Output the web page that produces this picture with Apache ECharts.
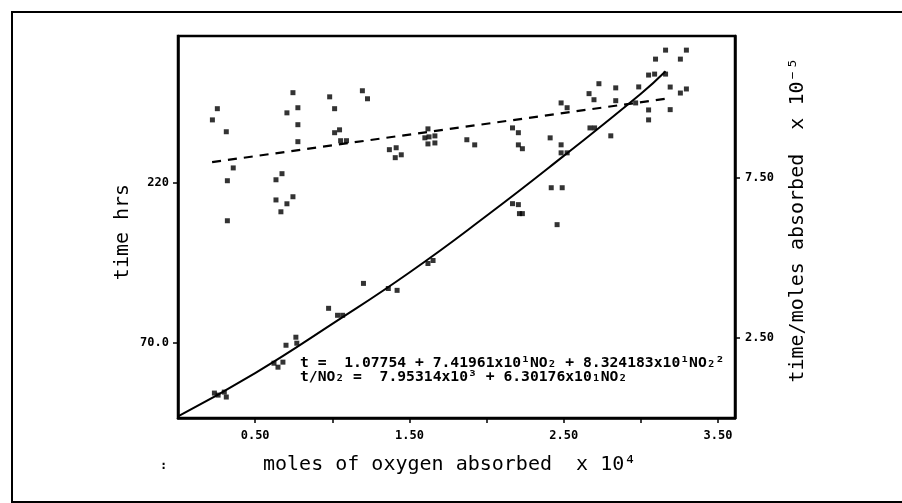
<!DOCTYPE html>
<html>
	<head>
		<meta charset="utf-8">
		<script src="https://cdn.jsdelivr.net/npm/echarts@6/dist/echarts.min.js"></script>
	</head>
	<body style="margin:0;background:#fff;">
		<div id="main" style="width:902px;height:503px;"></div>
		<script>
			// x: moles of oxygen absorbed (x10^4)
			// t points (left axis, hrs)
			var tPoints = [
				[0.236,23.3],[0.26,21.4],[0.30,24.2],[0.313,19.6],
				[0.622,51.2],[0.648,47.5],[0.68,52.2],[0.70,68],[0.764,75.5],[0.77,69.9],
				[0.976,102.5],[1.034,96],[1.067,96],[1.202,125.8],[1.363,121],[1.42,119.3],
				[1.62,144.4],[1.653,147.2],[2.168,200.3],[2.206,199.4],[2.213,191],[2.232,191],
				[2.419,215.2],[2.49,215.2],[2.457,180.7],[2.412,261.8],[2.483,255.3],
				[2.483,247.8],[2.522,247.8],[2.67,271.1],[2.70,271.1],[2.805,263.7],
				[3.05,287.9],[3.05,278.6],[3.05,320.5],[3.089,321.4],[3.16,321.4],
				[3.095,335.4],[3.16,343.8],[3.256,335.4],[3.295,343.8],[3.19,309.3],
				[3.295,307.5],[3.256,303.7]
			];
			// t/NO2 points (right axis)
			var ratioPoints = [
				[0.255,9.66],[0.223,9.31],[0.313,8.94],[0.32,7.41],[0.32,6.16],[0.358,7.81],
				[0.745,10.16],[0.706,9.53],[0.777,9.69],[0.777,9.16],[0.777,8.63],
				[0.674,7.63],[0.635,7.44],[0.635,6.81],[0.745,6.91],[0.706,6.69],[0.667,6.44],
				[0.983,10.03],[1.015,9.66],[1.047,9.0],[1.015,8.91],[1.054,8.66],[1.092,8.66],
				[1.195,10.22],[1.228,9.97],[1.37,8.38],[1.414,8.44],[1.408,8.13],[1.447,8.22],
				[1.62,9.03],[1.627,8.78],[1.665,8.81],[1.60,8.75],[1.62,8.56],[1.665,8.59],
				[1.872,8.69],[1.923,8.53],[2.168,9.06],[2.206,8.91],[2.206,8.53],[2.232,8.41],
				[2.483,9.84],[2.522,9.69],[2.664,10.13],[2.696,9.94],[2.728,10.44],
				[2.837,10.31],[2.837,9.91],[2.986,10.34],[2.966,9.84],[3.19,9.63]
			];
			// fitted curves
			var tCurve = [[0,1.5],[0.5,42],[1.0,88],[1.5,136],[2.0,189],[2.5,245],[3.0,303],[3.16,324]];
			var ratioFit = [[0.221,7.99],[3.159,9.97]];

			// tick labels
			var xTickValues = [0.5,1.5,2.5,3.5];
			var xTickLabels = ['0.50','1.50','2.50','3.50'];
			var xTickMarks = [0.5,1,1.5,2,2.5,3,3.5];
			var leftTickValues = [70,220];
			var leftTickLabels = ['70.0','220'];
			var rightTickValues = [2.5,7.5];
			var rightTickLabels = ['2.50','7.50'];

			var eq1 = 't =  1.07754 + 7.41961x10\u00b9NO\u2082 + 8.324183x10\u00b9NO\u2082\u00b2';
			var eq2 = 't/NO\u2082 =  7.95314x10\u00b3 + 6.30176x10\u2081NO\u2082';

			var mono = 'DejaVu Sans Mono';
			function lab(values, labels) {
				return function (v) {
					for (var i = 0; i < values.length; i++) {
						if (Math.abs(values[i] - v) < 1e-6) return labels[i];
					}
					return '';
				};
			}
			var tickLabelStyle = {color:'#000', fontFamily:mono, fontWeight:'bold', fontSize:12};

			option = {
				animation: false,
				backgroundColor: '#fff',
				grid: {left:178, right:167, top:36, bottom:85, show:true, borderColor:'#000', borderWidth:2.5},
				xAxis: {
					type: 'value', min: 0, max: 3.61,
					axisLine: {lineStyle:{color:'#000', width:2.5}},
					axisTick: {customValues: xTickMarks, length:5, lineStyle:{color:'#000', width:1.5}},
					axisLabel: Object.assign({customValues: xTickValues, formatter: lab(xTickValues, xTickLabels), margin:12}, tickLabelStyle),
					splitLine: {show:false}
				},
				yAxis: [
					{
						type: 'value', min: 0, max: 357, position: 'left',
						axisLine: {show:true, lineStyle:{color:'#000', width:2.5}},
						axisTick: {show:true, customValues: leftTickValues, length:5, lineStyle:{color:'#000', width:1.5}},
						axisLabel: Object.assign({customValues: leftTickValues, formatter: lab(leftTickValues, leftTickLabels), margin:9}, tickLabelStyle),
						splitLine: {show:false}
					},
					{
						type: 'value', min: 0, max: 11.93, position: 'right',
						axisLine: {show:true, lineStyle:{color:'#000', width:2.5}},
						axisTick: {show:true, customValues: rightTickValues, length:5, lineStyle:{color:'#000', width:1.5}},
						axisLabel: Object.assign({customValues: rightTickValues, formatter: lab(rightTickValues, rightTickLabels), margin:10}, tickLabelStyle),
						splitLine: {show:false}
					}
				],
				series: [
					{
						type: 'scatter', yAxisIndex: 0, data: tPoints,
						symbol: 'rect', symbolSize: 5, itemStyle: {color:'#000'}
					},
					{
						type: 'scatter', yAxisIndex: 1, data: ratioPoints,
						symbol: 'rect', symbolSize: 5, itemStyle: {color:'#000'}
					},
					{
						type: 'line', yAxisIndex: 0, data: tCurve, smooth: true,
						showSymbol: false, lineStyle: {color:'#000', width:2}
					},
					{
						type: 'line', yAxisIndex: 1, data: ratioFit,
						showSymbol: false, lineStyle: {color:'#000', width:2.2, type:[9,7]}
					}
				],
				graphic: [
					{type:'rect', shape:{x:12, y:12, width:900, height:490}, style:{fill:'none', stroke:'#000', lineWidth:2}, silent:true},
					{type:'text', x:300, y:356, style:{text:eq1, font:'bold 14.7px "' + mono + '"', fill:'#000'}},
					{type:'text', x:300, y:370, style:{text:eq2, font:'bold 14.7px "' + mono + '"', fill:'#000'}},
					{type:'text', x:263, y:455, style:{text:'moles of oxygen absorbed  x 10\u2074', font:'20px "' + mono + '"', fill:'#000'}},
					{type:'text', x:123, y:232, rotation:Math.PI/2, style:{text:'time hrs', font:'20px "' + mono + '"', fill:'#000', align:'center', verticalAlign:'middle'}},
					{type:'text', x:798, y:220, rotation:Math.PI/2, style:{text:'time/moles absorbed  x 10\u207b\u2075', font:'20px "' + mono + '"', fill:'#000', align:'center', verticalAlign:'middle'}},
					{type:'text', x:160, y:460, style:{text:':', font:'bold 12px "' + mono + '"', fill:'#000'}}
				]
			};
			var myChart = echarts.init(document.getElementById('main'));
			myChart.setOption(option, true);
		</script>
	</body>
</html>
